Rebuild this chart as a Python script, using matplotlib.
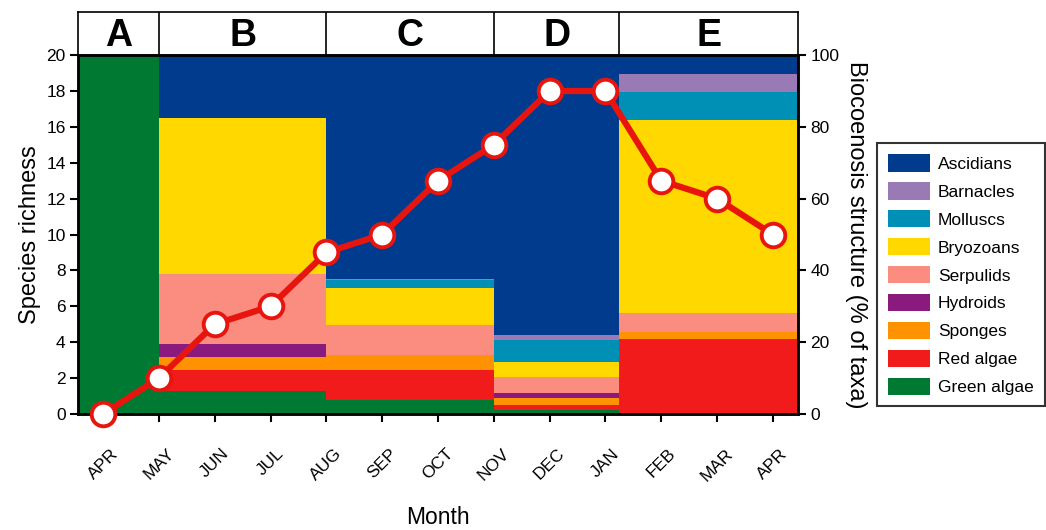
import numpy as np
import matplotlib
matplotlib.use('Agg')
import matplotlib.pyplot as plt
from matplotlib.patches import Patch

plt.rcParams['font.family'] = ['Liberation Sans', 'DejaVu Sans']

# monthly species richness
months = ['APR', 'MAY', 'JUN', 'JUL', 'AUG', 'SEP', 'OCT', 'NOV', 'DEC', 'JAN', 'FEB', 'MAR', 'APR']
richness = [0, 2, 5, 6, 9, 10, 13, 15, 18, 18, 13, 12, 10]

# community phases (in month index units)
periods = ['A', 'B', 'C', 'D', 'E']
period_start = [-0.45, 1, 4, 7, 9.25]
period_end = [1, 4, 7, 9.25, 12.45]

# biocoenosis structure, % of taxa per phase (stack bottom -> top)
taxa = ['Green algae', 'Red algae', 'Sponges', 'Hydroids', 'Serpulids',
        'Bryozoans', 'Molluscs', 'Barnacles', 'Ascidians']
taxa_colors = ['#007a33', '#f21b1b', '#ff9200', '#8b1a7f', '#fa8c80',
               '#ffd800', '#008fb5', '#9a7ab5', '#003b8e']
green_algae = [100, 6.3, 3.9, 1.1, 0]
red_algae = [0, 6.0, 8.4, 1.4, 21.0]
sponges = [0, 3.6, 4.2, 2.0, 1.7]
hydroids = [0, 3.6, 0, 1.4, 0]
serpulids = [0, 19.4, 8.4, 4.5, 5.5]
bryozoans = [0, 43.6, 10.3, 4.1, 53.7]
molluscs = [0, 0, 2.0, 6.2, 7.8]
barnacles = [0, 0, 0.5, 1.4, 5.0]
ascidians = [0, 17.5, 62.3, 77.9, 5.3]
structure = [green_algae, red_algae, sponges, hydroids, serpulids,
             bryozoans, molluscs, barnacles, ascidians]

fig = plt.figure(figsize=(10.46, 5.30), dpi=100)
ax = fig.add_axes([0.0746, 0.219, 0.6883, 0.677])
ax2 = ax.twinx()

# stacked structure blocks on the % axis
x0 = np.array(period_start)
widths = np.array(period_end) - x0
bottom = np.zeros(len(periods))
for name, vals, col in zip(taxa, structure, taxa_colors):
    vals = np.array(vals, dtype=float)
    ax2.bar(x0, vals, width=widths, bottom=bottom, align='edge',
            color=col, edgecolor='none', linewidth=0)
    bottom += vals
ax2.set_ylim(0, 100)
ax2.set_yticks(np.arange(0, 101, 20))
ax2.set_ylabel('Biocoenosis structure (% of taxa)', fontsize=17,
               rotation=270, labelpad=20)

# richness line drawn above the blocks
ax.set_zorder(ax2.get_zorder() + 1)
ax.patch.set_visible(False)
ax.plot(np.arange(len(months)), richness, color='#e8150f', lw=4.5,
        marker='o', markersize=17, markerfacecolor='white',
        markeredgecolor='#e8150f', markeredgewidth=2.8, clip_on=False, zorder=5)
ax.set_ylim(0, 20)
ax.set_yticks(np.arange(0, 21, 2))
ax.set_xlim(period_start[0], period_end[-1])
ax.set_xticks(np.arange(len(months)))
ax.set_xticklabels(months, rotation=45)
ax.set_ylabel('Species richness', fontsize=17, labelpad=4)
ax.set_xlabel('Month', fontsize=16.5, labelpad=16)

for a in (ax, ax2):
    for s in a.spines.values():
        s.set_linewidth(1.8)
    a.tick_params(direction='out', length=6, width=1.5, labelsize=12.5, pad=3)
ax.tick_params(axis='x', pad=17)

# phase header strip
hx = fig.add_axes([0.0746, 0.896, 0.6883, 0.081])
hx.set_xlim(period_start[0], period_end[-1])
hx.set_ylim(0, 1)
hx.set_xticks([])
hx.set_yticks([])
for s in hx.spines.values():
    s.set_linewidth(1.2)
for p, a_, b_ in zip(periods, period_start, period_end):
    if a_ > period_start[0]:
        hx.axvline(a_, color='black', lw=1.2)
    hx.text((a_ + b_) / 2, 0.45, p, ha='center', va='center',
            fontsize=27, fontweight='bold')

handles = [Patch(facecolor=c, edgecolor='none', label=t)
           for t, c in zip(taxa[::-1], taxa_colors[::-1])]
leg = fig.legend(handles=handles, loc='upper left',
                 bbox_to_anchor=(0.8384, 0.7300), fontsize=12.5,
                 handlelength=2.4, handleheight=1.15, labelspacing=0.6,
                 handletextpad=0.46, borderpad=0.65, borderaxespad=0,
                 fancybox=False, frameon=True, edgecolor='black')
leg.get_frame().set_linewidth(1.5)

fig.savefig('out.png', dpi=100)
